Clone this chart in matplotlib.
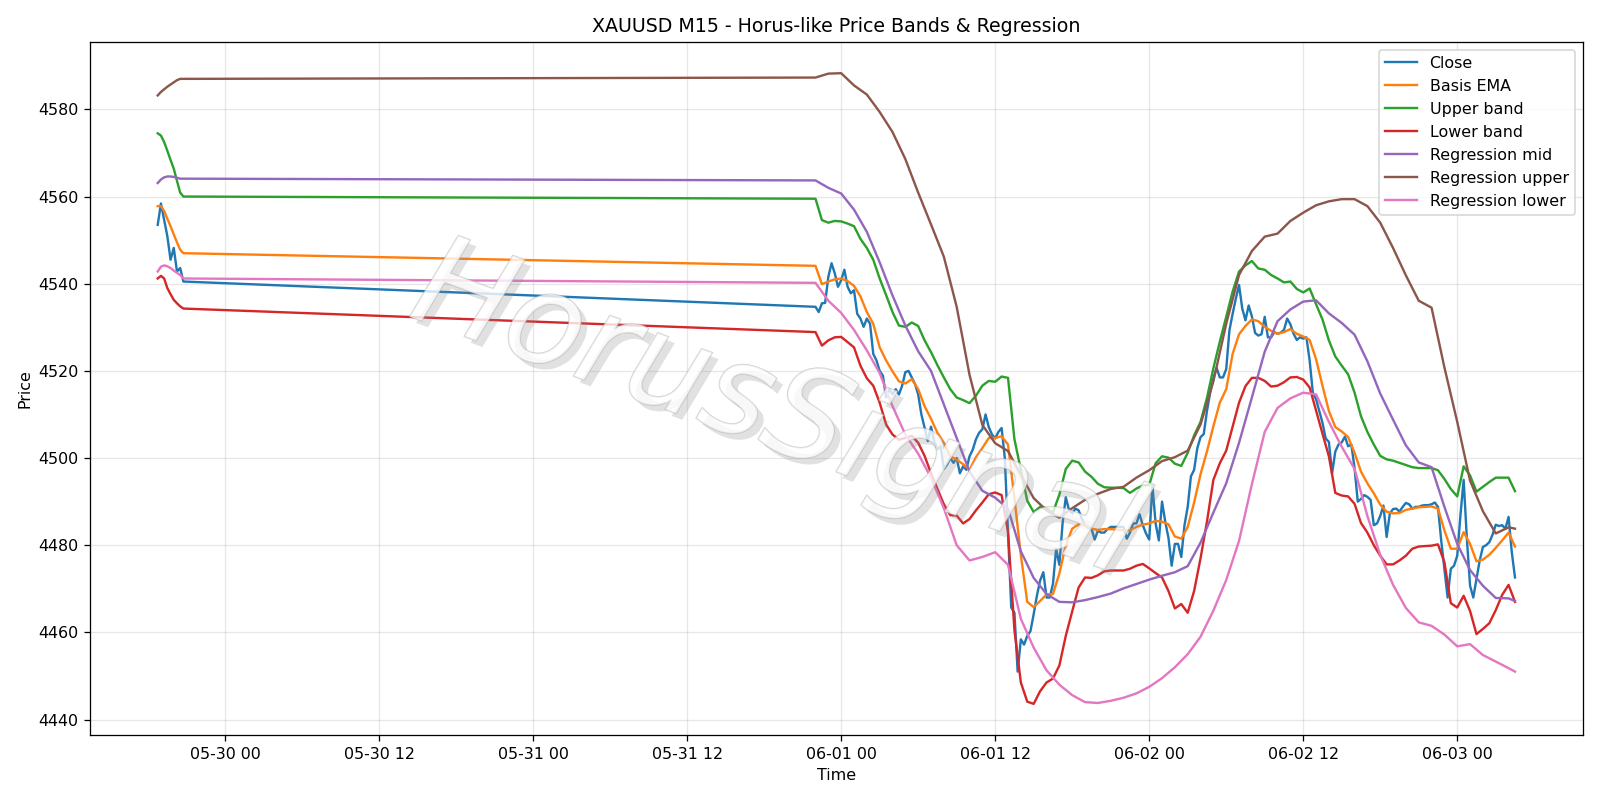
import matplotlib
matplotlib.use("Agg")
import matplotlib.pyplot as plt
import matplotlib.dates as mdates
import matplotlib.patheffects as pe
import pandas as pd

# bar times: friday session end, then sunday open onwards (M15)
t_a = pd.date_range("2026-05-29 18:45", periods=9, freq="15min")
t_b = pd.date_range("2026-05-31 22:00", periods=219, freq="15min")
t_b30 = t_b[::2]
t_b60 = t_b[list(range(0, 219, 4)) + [218]]

close_a = [4553.5, 4558.4, 4554.7, 4550.9, 4545.5, 4548.2, 4542.8, 4543.6, 4540.5]
close_b = [
    4534.7, 4533.5, 4535.5, 4535.6, 4541.6, 4544.7, 4542.4, 4539.3, 4540.8, 4543.2,
    4539.3, 4537.8, 4538.5, 4533.1, 4532.0, 4530.1, 4532.0, 4530.8, 4523.9, 4522.4,
    4520.0, 4518.9, 4513.9, 4515.8, 4514.6, 4515.8, 4514.6, 4516.6, 4519.7, 4520.0,
    4518.5, 4517.0, 4514.6, 4510.0, 4506.9, 4503.9, 4507.2, 4503.8, 4502.0, 4502.7,
    4497.5, 4498.5, 4500.0, 4498.9, 4500.0, 4496.5, 4498.1, 4497.3, 4500.4, 4501.9,
    4504.3, 4505.8, 4506.6, 4510.0, 4507.1, 4505.4, 4504.5, 4506.0, 4506.9, 4500.0,
    4483.0, 4465.7, 4464.5, 4451.0, 4458.4, 4457.2, 4459.2, 4460.3, 4464.2, 4468.4,
    4471.9, 4473.8, 4468.0, 4468.0, 4471.1, 4479.2, 4475.5, 4485.0, 4491.0, 4488.1,
    4487.3, 4488.4, 4488.0, 4486.1, 4484.6, 4484.0, 4483.8, 4481.3, 4483.3, 4482.9,
    4482.9, 4483.7, 4484.2, 4484.2, 4484.2, 4484.2, 4484.2, 4481.5, 4482.9, 4485.0,
    4485.0, 4487.1, 4484.6, 4482.7, 4481.3, 4493.7, 4485.0, 4481.1, 4490.0, 4485.4,
    4481.7, 4475.3, 4480.3, 4480.3, 4477.3, 4484.6, 4488.8, 4495.8, 4497.3, 4502.3,
    4504.8, 4505.5, 4510.8, 4515.0, 4518.3, 4520.7, 4518.5, 4518.5, 4520.4, 4529.3,
    4533.1, 4536.6, 4539.7, 4534.3, 4531.6, 4535.0, 4532.5, 4528.7, 4528.1, 4528.4,
    4532.4, 4527.7, 4527.7, 4528.9, 4528.5, 4528.8, 4529.4, 4532.0, 4530.7, 4528.5,
    4527.1, 4527.7, 4527.4, 4527.7, 4522.4, 4515.0, 4513.5, 4510.8, 4508.1, 4504.5,
    4503.7, 4496.5, 4501.5, 4503.1, 4503.6, 4504.9, 4502.7, 4503.1, 4497.7, 4490.0,
    4490.6, 4491.5, 4491.1, 4490.4, 4484.6, 4485.0, 4486.7, 4489.1, 4481.9, 4487.3,
    4488.3, 4488.4, 4487.7, 4488.8, 4489.7, 4489.4, 4488.4, 4488.8, 4488.8, 4489.1,
    4489.2, 4489.2, 4489.4, 4489.8, 4488.8, 4481.1, 4474.6, 4468.0, 4474.6, 4475.3,
    4477.6, 4486.9, 4495.0, 4481.5, 4470.7, 4468.0, 4472.3, 4476.5, 4479.6, 4480.0,
    4480.7, 4482.4, 4484.7, 4484.4, 4484.6, 4483.8, 4486.5, 4478.4, 4472.6,
]

ema_a = [4557.8, 4557.8, 4556.7, 4554.9, 4553.2, 4551.3, 4549.5, 4547.8, 4547.0]
ema_b = [
    4544.1, 4539.9, 4540.5, 4541.0, 4541.2, 4540.6, 4539.5, 4537.1, 4533.5, 4530.8,
    4525.4, 4522.4, 4519.9, 4517.6, 4517.1, 4518.1, 4515.8, 4511.9, 4509.0, 4505.8,
    4503.5, 4500.4, 4499.6, 4498.6, 4497.3, 4500.2, 4502.3, 4504.6, 4504.6, 4505.0,
    4503.1, 4490.8, 4477.7, 4467.0, 4465.8, 4467.2, 4468.7, 4468.8, 4473.5, 4480.0,
    4483.8, 4484.8, 4484.6, 4483.8, 4483.5, 4483.7, 4483.7, 4483.6, 4483.4, 4483.4,
    4484.2, 4484.7, 4485.0, 4485.6, 4485.4, 4484.8, 4482.0, 4481.5, 4484.2, 4489.8,
    4496.3, 4501.5, 4507.3, 4512.7, 4515.8, 4523.9, 4528.4, 4530.3, 4531.8, 4531.4,
    4530.1, 4529.2, 4528.5, 4528.9, 4529.6, 4528.5, 4527.9, 4527.1, 4522.7, 4516.6,
    4510.8, 4507.1, 4506.1, 4504.8, 4501.2, 4496.9, 4494.2, 4491.9, 4489.3, 4487.7,
    4487.3, 4487.4, 4488.1, 4488.4, 4488.7, 4488.8, 4488.9, 4488.4, 4483.4, 4479.2,
    4479.2, 4483.0, 4480.3, 4476.3, 4476.7, 4477.8, 4479.4, 4481.1, 4482.9, 4479.7,
]

upper_a = [4574.5, 4574.0, 4572.5, 4570.5, 4568.4, 4566.4, 4563.6, 4560.9, 4560.0]
upper_b = [
    4559.5, 4554.6, 4554.0, 4554.4, 4554.3, 4553.8, 4553.2, 4550.3, 4548.2, 4545.5,
    4541.2, 4537.4, 4533.5, 4530.4, 4530.1, 4531.1, 4530.3, 4527.0, 4524.3, 4521.3,
    4518.5, 4515.8, 4513.9, 4513.3, 4512.6, 4514.3, 4516.6, 4517.7, 4517.5, 4518.7,
    4518.4, 4504.3, 4497.3, 4490.2, 4487.6, 4488.8, 4488.5, 4487.5, 4491.6, 4497.5,
    4499.4, 4499.0, 4496.9, 4495.7, 4494.1, 4493.3, 4493.2, 4493.2, 4493.1, 4492.0,
    4493.0, 4493.7, 4493.8, 4498.8, 4500.4, 4500.1, 4498.7, 4498.2, 4501.2, 4505.2,
    4508.3, 4513.8, 4520.6, 4526.7, 4532.4, 4538.2, 4542.8, 4544.2, 4545.2, 4543.5,
    4543.2, 4542.0, 4541.2, 4540.3, 4540.5, 4538.8, 4538.0, 4538.9, 4535.3, 4531.8,
    4527.0, 4523.3, 4521.2, 4519.2, 4515.0, 4509.6, 4506.0, 4503.1, 4500.5, 4499.7,
    4499.4, 4498.9, 4498.4, 4497.9, 4497.7, 4497.7, 4497.7, 4497.2, 4495.2, 4492.9,
    4491.2, 4498.1, 4496.0, 4492.3, 4493.4, 4494.5, 4495.5, 4495.5, 4495.5, 4492.4,
]

lower_a = [4541.2, 4541.8, 4541.2, 4539.0, 4537.6, 4536.3, 4535.5, 4534.8, 4534.3]
lower_b = [
    4528.9, 4525.8, 4527.0, 4527.7, 4527.8, 4526.6, 4525.4, 4521.2, 4518.3, 4516.6,
    4512.7, 4507.7, 4505.4, 4504.2, 4504.6, 4505.1, 4503.5, 4500.5, 4496.5, 4492.9,
    4489.4, 4486.9, 4486.8, 4485.0, 4486.0, 4488.0, 4489.8, 4491.7, 4492.1, 4491.5,
    4483.1, 4460.5, 4448.5, 4444.1, 4443.6, 4446.5, 4448.5, 4449.4, 4452.4, 4459.2,
    4464.8, 4470.3, 4472.6, 4472.5, 4473.1, 4474.0, 4474.2, 4474.2, 4474.2, 4474.6,
    4475.3, 4475.7, 4474.7, 4473.6, 4472.6, 4469.5, 4465.5, 4466.5, 4464.5, 4469.5,
    4477.0, 4485.4, 4495.0, 4498.8, 4501.7, 4507.2, 4512.7, 4516.5, 4518.4, 4518.4,
    4517.7, 4516.4, 4516.6, 4517.4, 4518.5, 4518.6, 4518.0, 4516.2, 4510.9, 4505.6,
    4500.4, 4492.0, 4491.4, 4491.2, 4489.5, 4485.1, 4482.9, 4480.0, 4477.6, 4475.6,
    4475.6, 4476.5, 4477.6, 4479.2, 4479.7, 4479.8, 4479.9, 4480.2, 4476.1, 4466.7,
    4465.7, 4468.4, 4464.9, 4459.6, 4460.8, 4462.1, 4465.1, 4468.6, 4470.9, 4467.0,
]

reg_mid_a = [4563.1, 4563.9, 4564.4, 4564.6, 4564.6, 4564.5, 4564.3, 4564.1, 4564.1]
reg_mid_b = [
    4563.7, 4562.0, 4560.7, 4557.0, 4551.9, 4544.9, 4537.3, 4530.4, 4524.5, 4520.0,
    4512.3, 4504.6, 4496.9, 4492.5, 4490.9, 4488.4, 4478.6, 4472.5, 4468.8, 4467.0,
    4466.9, 4467.4, 4468.1, 4468.9, 4470.1, 4471.1, 4472.1, 4473.0, 4473.8, 4475.2,
    4480.6, 4487.5, 4494.2, 4503.5, 4513.9, 4524.4, 4531.4, 4534.1, 4535.9, 4536.2,
    4533.2, 4531.0, 4528.3, 4522.2, 4514.8, 4508.8, 4502.9, 4499.0, 4497.9, 4488.8,
    4480.3, 4474.3, 4470.7, 4467.9, 4467.8, 4467.2,
]

reg_up_a = [4583.2, 4584.0, 4584.6, 4585.2, 4585.7, 4586.2, 4586.7, 4587.0, 4587.0]
reg_up_b = [
    4587.3, 4588.2, 4588.3, 4585.5, 4583.4, 4579.4, 4574.8, 4568.6, 4560.9, 4553.6,
    4546.2, 4534.7, 4519.1, 4507.6, 4503.4, 4501.6, 4496.1, 4490.8, 4488.0, 4486.3,
    4488.5, 4490.4, 4491.8, 4492.9, 4493.4, 4495.5, 4497.2, 4499.3, 4500.2, 4501.7,
    4507.7, 4517.6, 4530.8, 4542.0, 4547.5, 4550.8, 4551.5, 4554.4, 4556.3, 4558.0,
    4558.9, 4559.4, 4559.4, 4557.8, 4554.0, 4548.2, 4541.9, 4536.1, 4534.5, 4520.8,
    4508.3, 4494.8, 4487.8, 4482.7, 4484.1, 4483.8,
]

reg_lo_a = [4542.8, 4543.9, 4544.2, 4544.0, 4543.6, 4543.0, 4542.5, 4542.0, 4541.2]
reg_lo_b = [
    4540.2, 4536.1, 4533.3, 4529.4, 4524.7, 4519.5, 4511.9, 4505.4, 4501.0, 4495.5,
    4488.5, 4480.0, 4476.5, 4477.3, 4478.4, 4475.5, 4463.1, 4456.5, 4451.3, 4448.0,
    4445.6, 4444.0, 4443.8, 4444.3, 4445.0, 4446.0, 4447.5, 4449.5, 4452.0, 4455.0,
    4459.0, 4465.0, 4472.0, 4481.0, 4494.0, 4506.0, 4511.5, 4513.7, 4515.0, 4514.6,
    4508.3, 4502.6, 4497.5, 4486.7, 4477.8, 4470.9, 4465.6, 4462.3, 4461.5, 4459.5,
    4456.8, 4457.3, 4454.8, 4453.3, 4451.8, 4451.0,
]


def join(ta, a, tb, b):
    return list(ta) + list(tb), list(a) + list(b)


fig, ax = plt.subplots(figsize=(14, 7), dpi=1600 / 14)

series = [
    ("Close", t_b, close_a, close_b),
    ("Basis EMA", t_b30, ema_a, ema_b),
    ("Upper band", t_b30, upper_a, upper_b),
    ("Lower band", t_b30, lower_a, lower_b),
    ("Regression mid", t_b60, reg_mid_a, reg_mid_b),
    ("Regression upper", t_b60, reg_up_a, reg_up_b),
    ("Regression lower", t_b60, reg_lo_a, reg_lo_b),
]
for label, tb, a, b in series:
    x, y = join(t_a, a, tb, b)
    ax.plot(x, y, label=label, linewidth=1.5)

ax.text(0.46, 0.465, "HorusSignal", transform=ax.transAxes,
        fontsize=80, rotation=-20, style="italic",
        color="white", alpha=0.55, ha="center", va="center", zorder=10,
        path_effects=[pe.SimplePatchShadow(offset=(4, -4), shadow_rgbFace="#888888", alpha=0.25),
                      pe.Stroke(linewidth=1.0, foreground="#b0b0b0"),
                      pe.Normal()])

ax.xaxis.set_major_locator(mdates.HourLocator(byhour=[0, 12]))
ax.xaxis.set_major_formatter(mdates.DateFormatter("%m-%d %H"))
ax.set_title("XAUUSD M15 - Horus-like Price Bands & Regression")
ax.set_xlabel("Time")
ax.set_ylabel("Price")
ax.grid(True, alpha=0.3)
ax.legend(loc="upper right")

plt.tight_layout()
plt.savefig("out.png")
